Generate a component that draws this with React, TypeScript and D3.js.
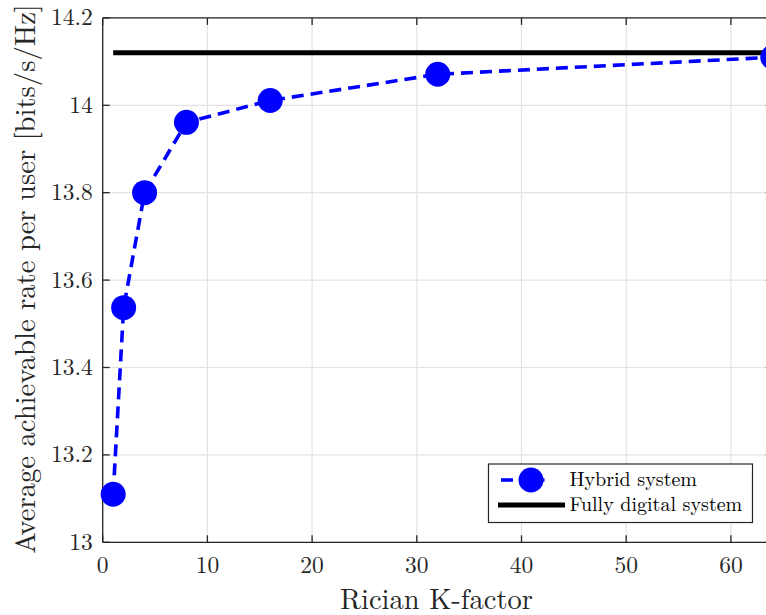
import * as d3 from 'd3';

const kFactors = [1, 2, 4, 8, 16, 32, 64];
const hybridRate = [13.11, 13.537, 13.8, 13.961, 14.011, 14.071, 14.11];
const digitalRate = [14.12, 14.12, 14.12, 14.12, 14.12, 14.12, 14.12];
const xTicks = [0, 10, 20, 30, 40, 50, 60];
const yTicks = [13, 13.2, 13.4, 13.6, 13.8, 14, 14.2];

const W = 766;
const H = 615;
const margin = { left: 102.7, top: 17.9, bottom: 542.3 };
const font = '"Latin Modern Roman", "Liberation Serif", serif';
const axisColor = '#262626';

const App = () => {
  const x = d3.scaleLinear().domain([0, 64]).range([margin.left, margin.left + 64 * 10.47]);
  const y = d3.scaleLinear().domain([13, 14.2]).range([margin.bottom, margin.top]);
  const plotRight = x(64);

  const line = d3
    .line<number>()
    .x((_, i) => x(kFactors[i]))
    .y(d => y(d));

  const txt = (size: number) => ({ fontFamily: font, fontSize: size });

  return (
    <div style={{ position: 'absolute', left: 0, top: 0 }}>
      <svg width={W} height={H} style={{ display: 'block', background: '#fff' }}>
        {/* grid */}
        {xTicks.map(t => (
          <line key={'gx' + t} x1={x(t)} x2={x(t)} y1={y(13)} y2={y(14.2)} stroke="#e3e3e3" strokeWidth={1.2} />
        ))}
        {yTicks.map(t => (
          <line key={'gy' + t} x1={x(0)} x2={plotRight} y1={y(t)} y2={y(t)} stroke="#e3e3e3" strokeWidth={1.2} />
        ))}

        {/* axes frame */}
        <line x1={x(0)} x2={plotRight} y1={y(13)} y2={y(13)} stroke={axisColor} strokeWidth={1.3} />
        <line x1={x(0)} x2={plotRight} y1={y(14.2)} y2={y(14.2)} stroke={axisColor} strokeWidth={1.3} />
        <line x1={x(0)} x2={x(0)} y1={y(13)} y2={y(14.2)} stroke={axisColor} strokeWidth={1.3} />
        <line x1={plotRight} x2={plotRight} y1={y(13)} y2={y(14.2)} stroke={axisColor} strokeWidth={1.3} />

        {/* ticks */}
        {xTicks.map(t => (
          <g key={'tx' + t}>
            <line x1={x(t)} x2={x(t)} y1={y(13)} y2={y(13) - 7} stroke={axisColor} strokeWidth={1.3} />
            <line x1={x(t)} x2={x(t)} y1={y(14.2)} y2={y(14.2) + 7} stroke={axisColor} strokeWidth={1.3} />
            <text x={x(t)} y={y(13) + 30.5} textAnchor="middle" style={txt(23.5)} fill={axisColor}>
              {t}
            </text>
          </g>
        ))}
        {yTicks.map(t => (
          <g key={'ty' + t}>
            <line x1={x(0)} x2={x(0) + 7} y1={y(t)} y2={y(t)} stroke={axisColor} strokeWidth={1.3} />
            <line x1={plotRight} x2={plotRight - 7} y1={y(t)} y2={y(t)} stroke={axisColor} strokeWidth={1.3} />
            <text x={x(0) - 10} y={y(t) + 7.5} textAnchor="end" style={txt(23.5)} fill={axisColor}>
              {d3.format('')(t)}
            </text>
          </g>
        ))}

        {/* fully digital */}
        <path d={line(digitalRate) ?? ''} fill="none" stroke="#000" strokeWidth={5} />

        {/* hybrid */}
        <path d={line(hybridRate) ?? ''} fill="none" stroke="#0000ff" strokeWidth={3.6} strokeDasharray="12 7" />
        {hybridRate.map((v, i) => (
          <circle key={'m' + i} cx={x(kFactors[i])} cy={y(v)} r={12.5} fill="#0000ff" />
        ))}

        {/* axis labels */}
        <text x={436.5} y={608.5} textAnchor="middle" style={txt(28.5)} fill={axisColor}>
          Rician K-factor
        </text>
        <text
          transform={`translate(35,279) rotate(-90)`}
          textAnchor="middle"
          style={txt(28.6)}
          fill={axisColor}
        >
          Average achievable rate per user [bits/s/Hz]
        </text>

        {/* legend */}
        <g>
          <rect x={488.5} y={464} width={264} height={58.5} fill="#fff" stroke={axisColor} strokeWidth={1.2} />
          <line x1={500} x2={563} y1={480} y2={480} stroke="#0000ff" strokeWidth={3.6} strokeDasharray="12 19.5" strokeDashoffset={-1} />
          <circle cx={531} cy={480} r={12.5} fill="#0000ff" />
          <text x={569.5} y={486} style={txt(20)} fill="#000">
            Hybrid system
          </text>
          <line x1={498} x2={565} y1={505} y2={505} stroke="#000" strokeWidth={5} />
          <text x={569.5} y={510.5} style={txt(20)} fill="#000">
            Fully digital system
          </text>
        </g>
      </svg>
    </div>
  );
};

export default App;
